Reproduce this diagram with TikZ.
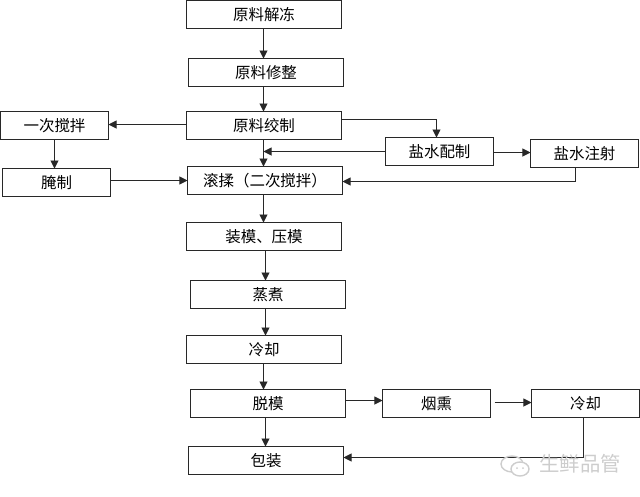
\documentclass[tikz,border=0pt]{standalone}
\usepackage{fontspec}
\setmainfont{Noto Sans CJK SC}
\usepackage{xcolor}
\usetikzlibrary{arrows.meta, positioning, calc}
\definecolor{cLine}{RGB}{40,40,40}
\definecolor{cMark}{RGB}{205,205,205}
\tikzset{
	procbox/.style={rectangle, draw=cLine, line width=0.75pt, minimum width=3.875cm, minimum height=0.7cm, align=center, outer sep=0pt, inner sep=0pt},
	sidebox/.style={procbox, minimum width=2.7cm},
	flowarrow/.style={-{Stealth[inset=0pt, length=2mm, width=2mm]}, line width=0.7pt, cLine},
	flowline/.style={line width=0.7pt, cLine},
	marktext/.style={text=cMark, font=\fontsize{14.5}{16}\selectfont, inner sep=0pt},
}
\begin{document}
\begin{tikzpicture}[x=0.025cm, y=-0.025cm, font=\fontsize{11}{13}\selectfont]
	\useasboundingbox (0,0) rectangle (640,496);
	% main column
	\node[procbox] (thaw)   at (264,14.5)  {原料解冻};
	\node[procbox] (trim)   at (266,72.5)  {原料修整};
	\node[procbox] (mince)  at (264,125.5) {原料绞制};
	\node[procbox] (tumble) at (265,180.5) {滚揉（二次搅拌）};
	\node[procbox] (mould)  at (264,236.5) {装模、压模};
	\node[procbox] (steam)  at (268,294.5) {蒸煮};
	\node[procbox] (cool)   at (264,349.5) {冷却};
	\node[procbox] (demould) at (268,403.5) {脱模};
	\node[procbox] (pack)   at (266,460.5) {包装};
	% side boxes
	\node[sidebox] (mixone) at (54.5,125.5) {一次搅拌};
	\node[sidebox] (cure)   at (56.5,182.5) {腌制};
	\node[sidebox] (brine)  at (439.5,151.5) {盐水配制};
	\node[sidebox] (inject) at (584.5,153.5) {盐水注射};
	\node[sidebox] (smoke)  at (436.5,403.5) {烟熏};
	\node[sidebox] (cooltwo) at (585.5,403.5) {冷却};
	% arrow columns
	\coordinate (axisa) at (263.5,0);
	\coordinate (axisb) at (265.5,0);
	% down the main column
	\draw[flowarrow] (thaw.south -| axisa) -- (trim.north -| axisa);
	\draw[flowarrow] (trim.south -| axisa) -- (mince.north -| axisa);
	\draw[flowarrow] (mince.south -| axisa) -- (tumble.north -| axisa);
	\draw[flowarrow] (tumble.south -| axisa) -- (mould.north -| axisa);
	\draw[flowarrow] (mould.south -| axisb) -- (steam.north -| axisb);
	\draw[flowarrow] (steam.south -| axisb) -- (cool.north -| axisb);
	\draw[flowarrow] (cool.south -| axisa) -- (demould.north -| axisa);
	\draw[flowarrow] (demould.south -| axisb) -- (pack.north -| axisb);
	% left branch
	\coordinate (minceleft) at (0,124.5);
	\draw[flowarrow] (mince.west |- minceleft) -- (mixone.east |- minceleft);
	\draw[flowarrow] (mixone.south) -- (mixone.south |- cure.north);
	\coordinate (cureright) at (0,180.5);
	\draw[flowarrow] (cure.east |- cureright) -- (tumble.west |- cureright);
	% brine branch
	\coordinate (brinetop) at (436.5,119.5);
	\draw[flowarrow] (mince.east |- brinetop) -- (brinetop) -- (brinetop |- brine.north);
	\draw[flowarrow] (brine.west) -- (brine.west -| axisa);
	\coordinate (brineright) at (0,152.5);
	\draw[flowarrow] (brine.east |- brineright) -- (inject.west |- brineright);
	\coordinate (injectdown) at (575.5,181.5);
	\draw[flowline] (inject.south -| injectdown) -- (injectdown);
	\draw[flowarrow] (injectdown) -- (injectdown -| tumble.east);
	% smoking branch
	\coordinate (demouldright) at (0,400.5);
	\draw[flowarrow] (demould.east |- demouldright) -- (smoke.west |- demouldright);
	\coordinate (smokeright) at (0,402.5);
	\draw[flowarrow] ([xshift=3]smoke.east |- smokeright) -- (cooltwo.west |- smokeright);
	\coordinate (cooldown) at (583.5,457.5);
	\draw[flowline] (cooltwo.south -| cooldown) -- (cooldown);
	\draw[flowarrow] (cooldown) -- (cooldown -| pack.east);
	% watermark
	\draw[cMark, line width=1pt] (512,464) ellipse (11 and 8);
	\draw[cMark, line width=1pt, fill=white] (520,469) ellipse (9 and 7);
	\fill[cMark] (517,468) circle (1) (523,468) circle (1);
	\node[marktext] (mark) at (580,464) {生鲜品管};
\end{tikzpicture}
\end{document}
